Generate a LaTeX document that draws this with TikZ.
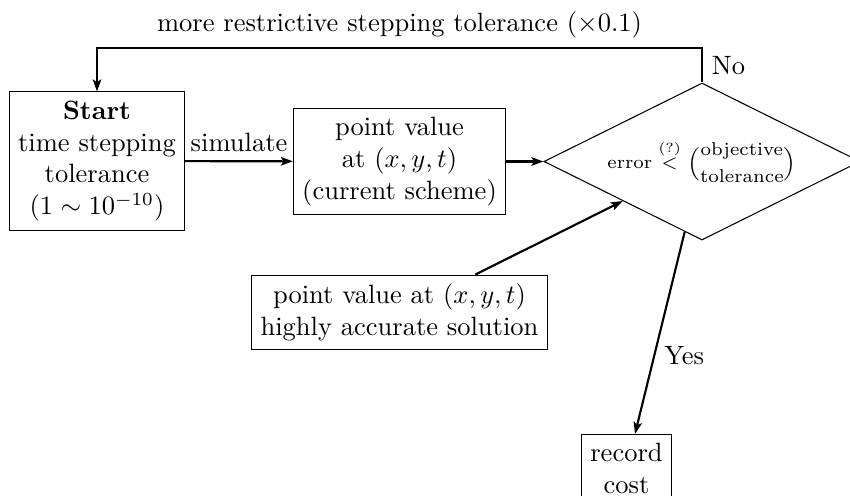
\documentclass[tikz,border=0pt]{standalone}
\usepackage{amsmath}
\usetikzlibrary{shapes.geometric,arrows.meta}
\begin{document}
\begin{tikzpicture}[x=0.3774pt,y=-0.3774pt,
  box/.style={draw,thin,align=center,inner sep=3.33pt},
  arr/.style={thick,-{Stealth[length=4.5pt,width=3.2pt,inset=1pt]}}]
\useasboundingbox (0,0) rectangle (850,496);
\node[box] (start) at (97,161) {\textbf{Start}\\time stepping\\tolerance\\$(1\sim10^{-10})$};
\node[box] (pv) at (399.5,161.5) {point value\\at $(x,y,t)$\\(current scheme)};
\node[draw,thin,diamond,aspect=2,minimum width=119.3pt,minimum height=59.25pt,inner sep=1pt] (d) at (702,161.5)
  {\scriptsize $\text{error} \overset{(?)}{<} \dbinom{\text{objective}}{\text{tolerance}}$};
\node[box] (hb) at (399.5,312.5) {point value at $(x,y,t)$\\highly accurate solution};
\node[box] (rec) at (626.5,468.5) {record\\cost};
\coordinate (tr) at (702,48);
\coordinate (tl) at (97,48);
\draw[arr] (start) -- node[above] {simulate} (pv);
\draw[arr] (pv) -- (d);
\draw[arr] (d.north) -- node[right] {No} (tr) -- node[above] {more restrictive stepping tolerance $(\times0.1)$} (tl) -- (start.north);
\draw[arr] (hb) -- (d.south west);
\draw[arr] (d) -- node[right,pos=0.61] {Yes} (rec);
\end{tikzpicture}
\end{document}
